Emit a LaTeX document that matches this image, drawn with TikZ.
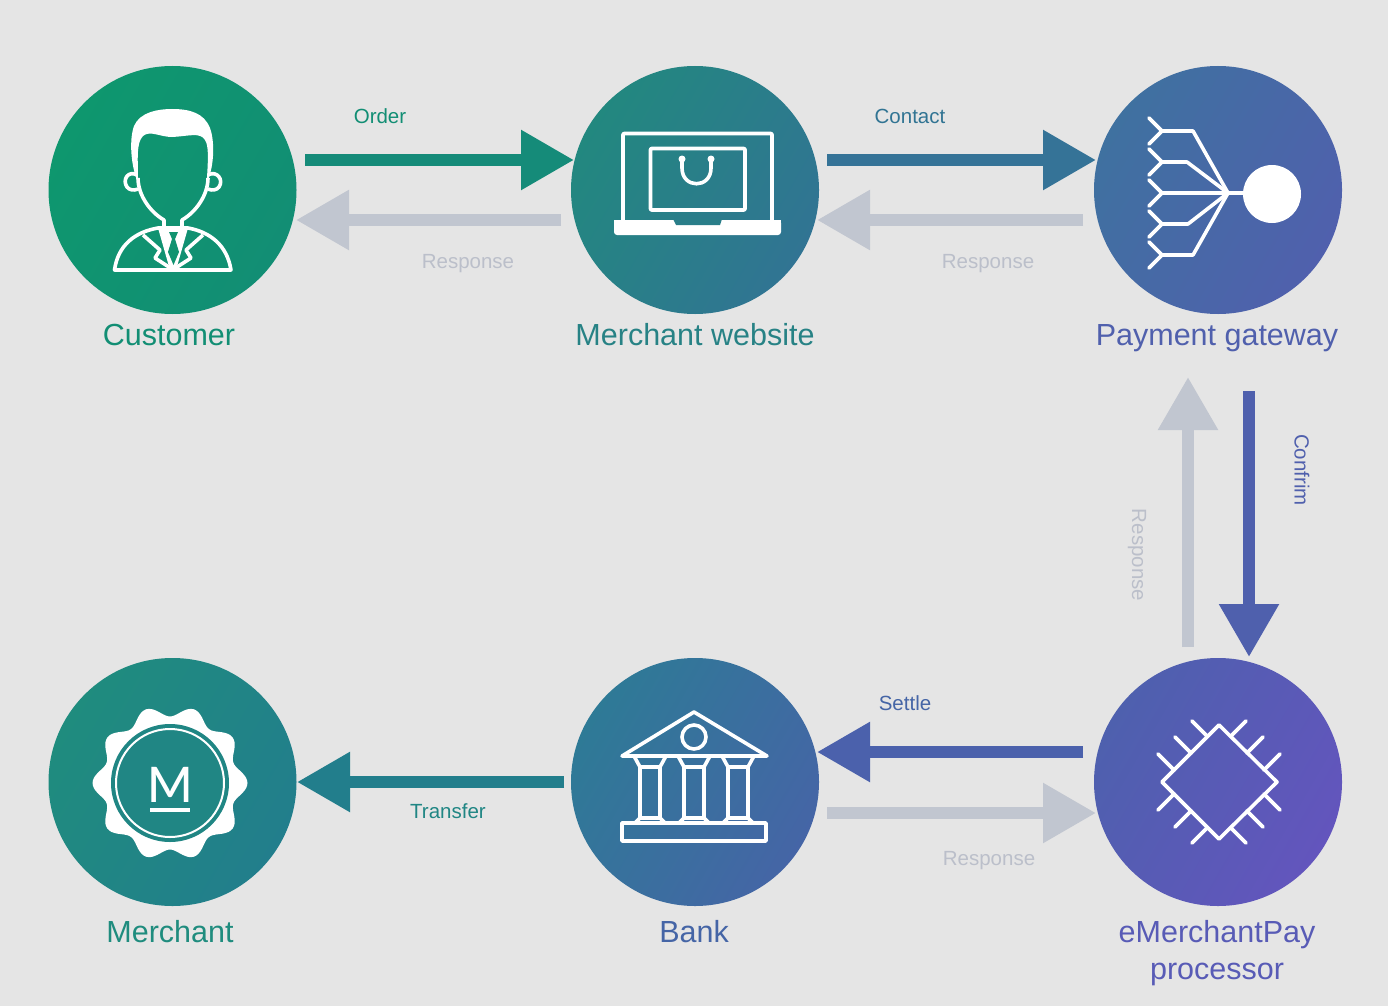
\documentclass[tikz,border=0pt]{standalone}
\usepackage{fontspec}
\setmainfont{Liberation Sans}
\newfontfamily\logofont{Lato Medium}
\usetikzlibrary{arrows.meta}

\definecolor{paper}{HTML}{E5E5E5}
\definecolor{faded}{HTML}{C1C6D0}
\definecolor{fadedtext}{HTML}{BBBFCA}
\definecolor{greenA}{HTML}{0E976E}
\definecolor{greenB}{HTML}{128E74}
\definecolor{tealA}{HTML}{1F8C7E}
\definecolor{tealB}{HTML}{227E8C}
\definecolor{cyanA}{HTML}{22887F}
\definecolor{cyanB}{HTML}{317493}
\definecolor{steelA}{HTML}{2E7A96}
\definecolor{steelB}{HTML}{4565A6}
\definecolor{blueA}{HTML}{3F71A0}
\definecolor{blueB}{HTML}{5060AD}
\definecolor{violetA}{HTML}{4E60AE}
\definecolor{violetB}{HTML}{6355BD}

\tikzset{
	hub/.style 2 args={shape=circle,minimum size=248,inner sep=0,outer sep=0,left color=#1,right color=#2,shading angle=60},
	flow/.style={-{Triangle[length=53pt,width=57pt]},line width=12pt,color=#1},
	hubname/.style={font=\fontsize{30.5}{37}\selectfont,align=center,text=#1},
	tagtext/.style={font=\fontsize{20.5}{25}\selectfont,text=#1},
	icon/.style={draw=white,line width=3.6pt,line join=round}
}

\begin{document}
\begin{tikzpicture}[x=1pt,y=-1pt]
	
	\fill[paper] (0,0) rectangle (1388,1006);
	\useasboundingbox (0,0) rectangle (1388,1006);
	
	\node[hub={greenA}{greenB}] (customer) at (172.5,190) {};
	\node[hub={cyanA}{cyanB}] (website) at (695,190) {};
	\node[hub={blueA}{blueB}] (gateway) at (1218,190) {};
	\node[hub={tealA}{tealB}] (merchant) at (172.5,782) {};
	\node[hub={steelA}{steelB}] (bank) at (695,782) {};
	\node[hub={violetA}{violetB}] (processor) at (1218,782) {};
	
	\node[hubname={greenB},anchor=base] (customername) at (169,345) {Customer};
	\node[hubname={cyanA!70!cyanB},anchor=base] (websitename) at (695,345) {Merchant website};
	\node[hubname={blueB},anchor=base] (gatewayname) at (1217,345) {Payment gateway};
	\node[hubname={tealA},anchor=base] (merchantname) at (170,942) {Merchant};
	\node[hubname={steelB},anchor=base] (bankname) at (694,942) {Bank};
	\node[hubname={violetA!50!violetB}] (processorname) at (1217,953) {eMerchantPay\\processor};
	
	\draw[flow={greenB!80!tealB}] ([shift={(8.5,-30)}]customer.east) -- ([shift={(3,-30)}]website.west);
	\draw[flow={faded}] ([shift={(-10,30)}]website.west) -- ([shift={(-0.5,30)}]customer.east);
	\draw[flow={cyanB!70!blueA}] ([shift={(8,-30)}]website.east) -- ([shift={(2,-30)}]gateway.west);
	\draw[flow={faded}] ([shift={(-11,30)}]gateway.west) -- ([shift={(-2,30)}]website.east);
	\draw[flow={blueB!60!violetA}] ([shift={(31,77)}]gateway.south) -- ([shift={(31,-1)}]processor.north);
	\draw[flow={faded}] ([shift={(-30,-11)}]processor.north) -- ([shift={(-30,63)}]gateway.south);
	\draw[flow={violetA!70!steelB}] ([shift={(-11,-30)}]processor.west) -- ([shift={(-2,-30)}]bank.east);
	\draw[flow={faded}] ([shift={(8,31)}]bank.east) -- ([shift={(2,31)}]processor.west);
	\draw[flow={tealB}] ([shift={(-7,0)}]bank.west) -- ([shift={(0.5,0)}]merchant.east);
	
	\node[tagtext={greenB}] (ordertag) at (380,116) {Order};
	\node[tagtext={fadedtext}] (replyone) at (468,264) {Response};
	\node[tagtext={cyanB}] (contacttag) at (910,116) {Contact};
	\node[tagtext={fadedtext}] (replytwo) at (988,264) {Response};
	\node[tagtext={blueB},rotate=-90] (confirmtag) at (1302,470) {Confrim};
	\node[tagtext={fadedtext},rotate=-90] (replythree) at (1137,555) {Response};
	\node[tagtext={steelB}] (settletag) at (905,703) {Settle};
	\node[tagtext={fadedtext}] (replyfour) at (989,861) {Response};
	\node[tagtext={tealA!60!tealB}] (transfertag) at (448,811) {Transfer};
	
	\fill[white] (137,180) .. controls (131,165) and (129,140) .. (134,126) .. controls (140,112) and (158,109) .. (172,109) .. controls (190,109) and (204,113) .. (210,128) .. controls (215,142) and (214,165) .. (208,180) -- (207,178) .. controls (208,160) and (209,146) .. (205,140) .. controls (200,132) and (190,136) .. (172,137) .. controls (160,137) and (150,130) .. (143,136) .. controls (136,143) and (138,160) .. (138,178) -- cycle;
	\draw[icon] (138,178) .. controls (138,195) and (150,212) .. (164,220) -- (164,229);
	\draw[icon] (208,178) .. controls (208,195) and (196,212) .. (182,220) -- (182,229);
	\draw[icon] (137,175) .. controls (128,170) and (122,180) .. (127,187) .. controls (129,190) and (134,191) .. (138,189);
	\draw[icon] (208,175) .. controls (217,170) and (224,180) .. (219,187) .. controls (217,190) and (212,191) .. (208,189);
	\draw[icon] (114.5,270) .. controls (118,245) and (135,232) .. (158,228) -- (188,228) .. controls (210,232) and (227,245) .. (231,270) -- cycle;
	\draw[icon] (143,235) -- (160,250) -- (155,258) -- (172,269);
	\draw[icon] (203,235) -- (186,250) -- (191,258) -- (174,269);
	\fill[white] (158,228) -- (188,228) -- (176,270) -- (170,270) -- cycle;
	\fill[greenA!60!greenB] (169,232) -- (178,232) -- (175,239) -- (179,252) -- (173.5,265) -- (168,252) -- (172,239) -- cycle;
	
	\draw[icon,rounded corners=1pt] (623,220) -- (623,133.5) -- (772,133.5) -- (772,220);
	\draw[icon,rounded corners=1pt] (650.5,148.5) rectangle (745,210);
	\draw[icon] (682,159) -- (682,168) .. controls (682,189) and (711,189) .. (711,168) -- (711,159);
	\fill[white] (682,159) circle (3.5) (711,159) circle (3.5);
	\fill[white,rounded corners=3pt] (614,220) rectangle (781,235);
	\fill[white] (614,220) rectangle (781,226);
	\fill[cyanA!50!cyanB] (673,219) -- (722,219) -- (720,225) -- (676,225) -- cycle;
	
	\draw[icon] (1228,193) -- (1245,193);
	\fill[white] (1272,194) circle (29);
	\foreach \kneex/\rowy in {1193/131,1187/162,1178/193,1188/224,1193/255} {
		\draw[icon,line cap=round] (1228,193) -- (\kneex,\rowy) -- (1162,\rowy);
		\draw[icon,line cap=round] (1149,\rowy-13) -- (1162,\rowy) -- (1149,\rowy+13);
	}
	
	\fill[white,shift={(170,783)}] plot[smooth cycle,samples=90,domain=0:356] (\x:{72+5.5*cos(10*\x)});
	\fill[tealA!60!tealB] (170,783) circle (59);
	\draw[white,line width=2pt] (170,783) circle (54);
	\node[font=\logofont\fontsize{49}{49}\selectfont,text=white,inner sep=0] (sealletter) at (170.5,785) {M};
	\draw[icon] (150,810) -- (190,810);
	
	\draw[icon] (622,756) -- (694,712) -- (767,756) -- cycle;
	\draw[icon] (694,737) circle (12);
	\foreach \colx in {650,694,738} {
		\draw[icon] (\colx-16,756) -- (\colx-10,767) -- (\colx-10,818) -- (\colx-15,823);
		\draw[icon] (\colx+16,756) -- (\colx+10,767) -- (\colx+10,818) -- (\colx+15,823);
		\draw[icon] (\colx-10,767) -- (\colx+10,767);
		\draw[icon] (\colx-10,818) -- (\colx+10,818);
	}
	\draw[icon] (622,823) rectangle (766,841);
	
	\draw[icon] (1219,725) -- (1277,782) -- (1219,839) -- (1162,782) -- cycle;
	\foreach \flipx/\flipy in {1/1,1/-1,-1/1,-1/-1} {
		\foreach \inx/\iny/\outx/\outy in {12/46/27/61,28/29/44/45,45/12/61/28} {
			\draw[icon,line cap=round] (1219+\flipx*\inx,782+\flipy*\iny) -- (1219+\flipx*\outx,782+\flipy*\outy);
		}
	}
\end{tikzpicture}
\end{document}
